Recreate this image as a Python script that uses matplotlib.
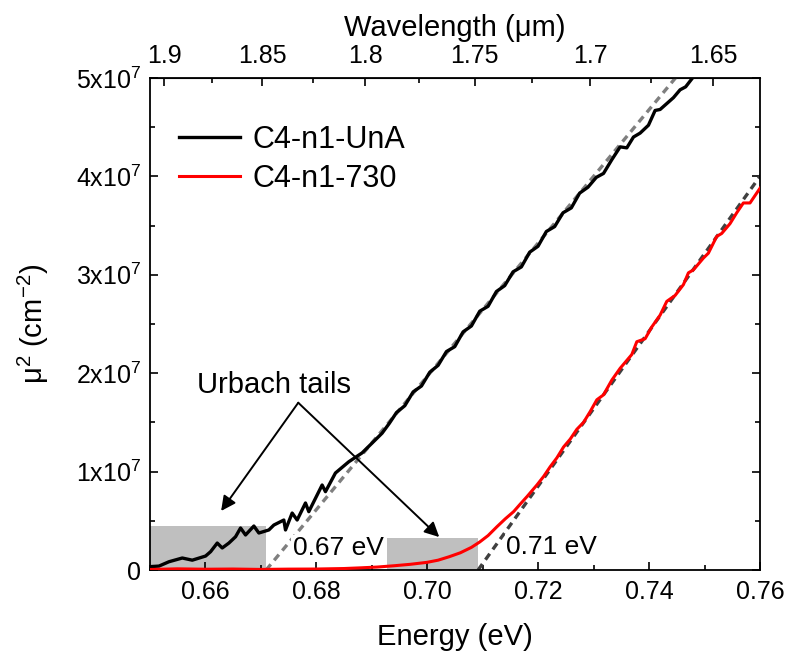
import numpy as np
import matplotlib
matplotlib.use("Agg")
import matplotlib.pyplot as plt
from matplotlib.ticker import MultipleLocator, FixedLocator

plt.rcParams["font.family"] = ["Liberation Sans", "DejaVu Sans"]
plt.rcParams["mathtext.fontset"] = "custom"
plt.rcParams["mathtext.rm"] = "Liberation Sans"
plt.rcParams["mathtext.it"] = "Liberation Sans"
plt.rcParams["mathtext.bf"] = "Liberation Sans"
plt.rcParams["mathtext.default"] = "regular"

# --- data ---
# C4-n1-UnA (black)
E_una = [0.6500, 0.6517, 0.6535, 0.6559, 0.6577, 0.6601, 0.6610, 0.6622, 0.6631,
         0.6643, 0.6655, 0.6664, 0.6673, 0.6688, 0.6697, 0.6715, 0.6724, 0.6742,
         0.6745, 0.6757, 0.6766, 0.6781, 0.6787, 0.6811, 0.6817, 0.6835, 0.6859,
         0.6883, 0.6919, 0.6932, 0.6945, 0.6960, 0.6975, 0.6990, 0.7005, 0.7020,
         0.7035, 0.7050, 0.7065, 0.7080, 0.7095, 0.7110, 0.7125, 0.7140, 0.7155,
         0.7170, 0.7185, 0.7200, 0.7215, 0.7230, 0.7245, 0.7260, 0.7275, 0.7290,
         0.7305, 0.7318, 0.7333, 0.7348, 0.7360, 0.7372, 0.7384, 0.7399, 0.7411,
         0.7420, 0.7432, 0.7444, 0.7456, 0.7466, 0.7477]
mu2_una = [0.34e6, 0.40e6, 0.84e6, 1.22e6, 1.00e6, 1.42e6, 1.86e6, 2.74e6, 2.24e6,
           2.74e6, 3.38e6, 4.27e6, 3.56e6, 4.47e6, 3.76e6, 4.07e6, 4.57e6, 5.08e6,
           4.07e6, 5.79e6, 5.08e6, 6.81e6, 5.93e6, 8.64e6, 7.96e6, 9.86e6, 1.10e7,
           1.19e7, 1.39e7, 1.49e7, 1.60e7, 1.67e7, 1.81e7, 1.87e7, 2.01e7, 2.08e7,
           2.22e7, 2.27e7, 2.42e7, 2.48e7, 2.63e7, 2.68e7, 2.83e7, 2.89e7, 3.03e7,
           3.08e7, 3.23e7, 3.29e7, 3.44e7, 3.49e7, 3.63e7, 3.68e7, 3.83e7, 3.89e7,
           3.99e7, 4.03e7, 4.17e7, 4.30e7, 4.29e7, 4.40e7, 4.44e7, 4.52e7, 4.67e7,
           4.68e7, 4.74e7, 4.80e7, 4.88e7, 4.91e7, 4.99e7]

# C4-n1-730 (red)
E_730 = [0.650, 0.655, 0.660, 0.665, 0.670, 0.675, 0.680, 0.685, 0.688, 0.691,
         0.694, 0.697, 0.700, 0.702, 0.704, 0.706, 0.708, 0.7095, 0.711, 0.7126,
         0.7141, 0.7156, 0.7168, 0.7180, 0.7198, 0.7210, 0.7222, 0.7234, 0.7246,
         0.7258, 0.7270, 0.7282, 0.7294, 0.7306, 0.7318, 0.7333, 0.7348, 0.7369,
         0.7378, 0.7393, 0.7405, 0.7420, 0.7432, 0.7447, 0.7462, 0.7471, 0.7480,
         0.7498, 0.7507, 0.7522, 0.7531, 0.7546, 0.7558, 0.7570, 0.7582, 0.7600]
mu2_730 = [0.05e6, 0.12e6, 0.08e6, 0.10e6, 0.06e6, 0.09e6, 0.10e6, 0.15e6, 0.22e6,
           0.30e6, 0.43e6, 0.58e6, 0.78e6, 1.00e6, 1.35e6, 1.75e6, 2.30e6, 2.85e6,
           3.50e6, 4.40e6, 5.20e6, 5.93e6, 6.70e6, 7.45e6, 8.64e6, 9.50e6, 1.05e7,
           1.14e7, 1.25e7, 1.33e7, 1.43e7, 1.50e7, 1.61e7, 1.73e7, 1.78e7, 1.93e7,
           2.05e7, 2.19e7, 2.32e7, 2.35e7, 2.47e7, 2.59e7, 2.73e7, 2.79e7, 2.90e7,
           3.02e7, 3.05e7, 3.17e7, 3.22e7, 3.39e7, 3.42e7, 3.52e7, 3.63e7, 3.73e7,
           3.73e7, 3.88e7]

# linear fits (Tauc-style extrapolation)
fit_una_E = [0.6710, 0.7455]
fit_una_mu2 = [0.0, 5.05e7]
fit_730_E = [0.7092, 0.7610]
fit_730_mu2 = [0.0, 4.08e7]

# Urbach tail regions: (E start, E end, height)
tail_una = (0.6500, 0.6710, 4.47e6)
tail_730 = (0.6928, 0.7092, 3.30e6)

gap_labels = ["0.67 eV", "0.71 eV"]
gap_label_pos = [(0.6840, 2.2e6), (0.7225, 2.35e6)]

wl_ticks = [1.9, 1.85, 1.8, 1.75, 1.7, 1.65]
wl_minor = [1.875, 1.825, 1.775, 1.725, 1.675]

fig = plt.figure(figsize=(7.87, 6.57), dpi=100)
ax = fig.add_axes([0.1900, 0.1324, 0.7757, 0.7489])

for (e0, e1, h) in (tail_una, tail_730):
    ax.fill_between([e0, e1], 0, h, color="#bfbfbf", lw=0, zorder=1)

ax.plot(fit_una_E, fit_una_mu2, ls=(0, (2.2, 1.6)), color="#7f7f7f", lw=2.4, zorder=2)
ax.plot(fit_730_E, fit_730_mu2, ls=(0, (2.2, 1.6)), color="#404040", lw=2.4, zorder=2)

ax.plot(E_una, mu2_una, color="black", lw=2.4, label="C4-n1-UnA", zorder=5)
ax.plot(E_730, mu2_730, color="#ff0000", lw=2.2, label="C4-n1-730", zorder=5)

for txt, (x, y) in zip(gap_labels, gap_label_pos):
    ax.text(x, y, txt, fontsize=19, ha="center", va="center", zorder=4,
            bbox=dict(facecolor="white", edgecolor="none", pad=1))

ax.text(0.6724, 1.88e7, "Urbach tails", fontsize=21, ha="center", va="center")
for tip in [(0.6629, 0.600e7), (0.7022, 0.335e7)]:
    ax.annotate("", xy=tip, xytext=(0.6768, 1.70e7),
                arrowprops=dict(arrowstyle="-|>", color="black", lw=1.4,
                                mutation_scale=22, shrinkA=0, shrinkB=0))

ax.set_xlim(0.65, 0.76)
ax.set_ylim(0, 5e7)
ax.xaxis.set_minor_locator(MultipleLocator(0.01))
ax.yaxis.set_minor_locator(MultipleLocator(0.5e7))
ax.set_xticks([0.66, 0.68, 0.70, 0.72, 0.74, 0.76])
ax.set_xticklabels(["0.66", "0.68", "0.70", "0.72", "0.74", "0.76"])
ax.set_yticks([0, 1e7, 2e7, 3e7, 4e7, 5e7])
ax.set_yticklabels(["0"] + [f"{i}x10$^{{7}}$" for i in range(1, 6)])

ax.tick_params(which="both", direction="in", right=True, labelsize=18, width=1.2)
ax.tick_params(axis="x", which="both", top=False, pad=7)
ax.tick_params(axis="y", pad=6)
ax.tick_params(which="major", length=6)
ax.tick_params(which="minor", length=3.5)
for s in ax.spines.values():
    s.set_linewidth(1.3)

ax.set_xlabel("Energy (eV)", fontsize=21, labelpad=14)
ax.set_ylabel("μ$^{2}$ (cm$^{-2}$)", fontsize=21, labelpad=18)

top = ax.secondary_xaxis("top", functions=(lambda e: 1.24 / np.asarray(e, float),
                                           lambda w: 1.24 / np.asarray(w, float)))
top.xaxis.set_major_locator(FixedLocator(wl_ticks))
top.xaxis.set_minor_locator(FixedLocator(wl_minor))
top.set_xticklabels([str(w) for w in wl_ticks])
top.tick_params(which="both", direction="in", labelsize=18, width=1.2, pad=7)
top.tick_params(which="major", length=6)
top.tick_params(which="minor", length=3.5)
top.set_xlabel("Wavelength (μm)", fontsize=21, labelpad=6)

ax.legend(loc="upper left", bbox_to_anchor=(0.028, 0.93), frameon=False, fontsize=22,
          handlelength=2.0, handletextpad=0.4, labelspacing=0.3, borderaxespad=0)

fig.savefig("out.png", dpi=100)
